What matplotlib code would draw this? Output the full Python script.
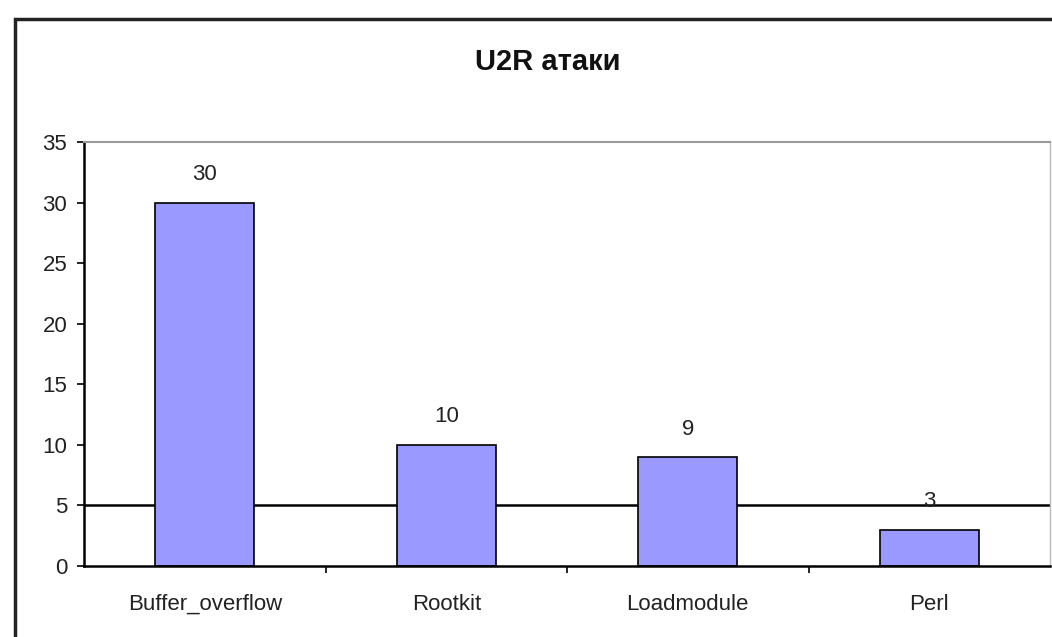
import matplotlib.pyplot as plt
from matplotlib.patches import Rectangle

plt.rcParams['font.family'] = ['Liberation Sans', 'DejaVu Sans']

categories = ['Buffer_overflow', 'Rootkit', 'Loadmodule', 'Perl']
counts = [30, 10, 9, 3]
threshold = 5
title = 'U2R атаки'

fig = plt.figure(figsize=(10.52, 6.37), dpi=100)
ax = fig.add_axes([84 / 1052, 1 - 566 / 637, 966 / 1052, 424 / 637])

# outer chart frame (cut off on the right and bottom)
fig.patches.append(Rectangle((15 / 1052, -0.1), 1.1, 1 - 19 / 637 + 0.1,
                             transform=fig.transFigure, fill=False,
                             edgecolor='#222222', linewidth=2.5, clip_on=False))

x = range(len(categories))
ax.axhline(threshold, color='black', linewidth=1.8, zorder=1)
bars = ax.bar(x, counts, width=0.41, color='#9999FF', edgecolor='black',
              linewidth=1.2, zorder=2)
for xi, v in zip(x, counts):
    ax.text(xi, v + 2.3, str(v), ha='center', va='center', fontsize=16,
            color='#222222', zorder=3)

ax.set_xlim(-0.5, len(categories) - 0.5)
ax.set_ylim(0, 35)
ax.set_yticks(range(0, 36, 5))
ax.set_xticks([i + 0.5 for i in range(len(categories) - 1)], minor=False)
ax.set_xticklabels([])
ax.set_xticks(list(x), minor=True)
ax.set_xticklabels(categories, minor=True)
ax.tick_params(axis='x', which='minor', length=0, pad=20, labelsize=16,
               labelcolor='#222222')
ax.tick_params(axis='x', which='major', length=5, direction='out', width=1.2)
ax.tick_params(axis='y', length=5, direction='out', width=1.2, labelsize=16,
               labelcolor='#222222', pad=7)

ax.spines['left'].set_linewidth(1.8)
ax.spines['bottom'].set_linewidth(1.8)
ax.spines['top'].set_color('#999999')
ax.spines['right'].set_color('#bbbbbb')
ax.spines['top'].set_linewidth(1.5)
ax.spines['right'].set_linewidth(1.0)

fig.text(548 / 1052, 1 - 62 / 637, title, ha='center', va='center',
         fontsize=21, fontweight='bold', color='#111111')

fig.savefig('out.png', dpi=100)
